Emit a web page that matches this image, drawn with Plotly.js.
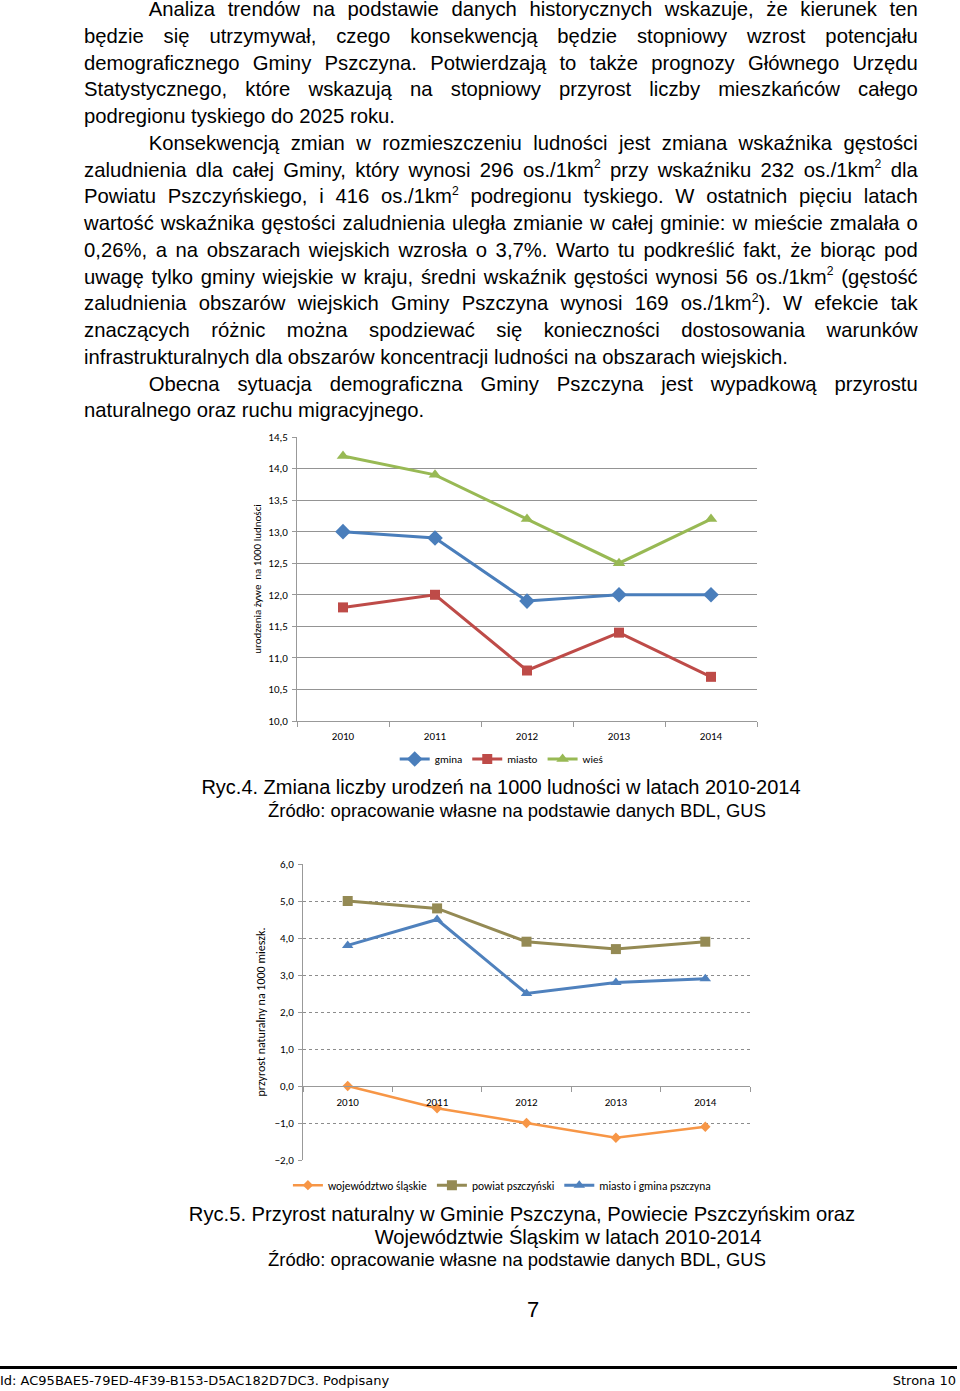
<!DOCTYPE html>
<html><head><meta charset="utf-8">
<script src="https://cdn.plot.ly/plotly-3.0.1.min.js"></script>
<style>
html,body{margin:0;padding:0;background:#fff;}
body{width:960px;height:1391px;position:relative;overflow:hidden;}
#text{position:absolute;left:84px;top:-4px;width:864px;transform:scaleX(0.965);transform-origin:0 0;font-family:"Liberation Sans",Arial,sans-serif;font-size:21px;line-height:26.75px;color:#000;}
#text .l{text-align:justify;text-align-last:justify;white-space:nowrap;height:26.75px;}
#text .e{text-align:left;text-align-last:left;}
#text .i{padding-left:67px;}
sup{font-size:0.6em;vertical-align:baseline;position:relative;top:-0.65em;}
.cap{position:absolute;left:0;width:1000px;text-align:center;font-family:"Liberation Sans",Arial,sans-serif;color:#000;white-space:nowrap;}
.chart{position:absolute;}
#foot{position:absolute;left:0;top:1366px;width:957px;height:3px;background:#000;}
.ft{position:absolute;top:1373px;font-family:"DejaVu Sans",Tahoma,sans-serif;font-size:13px;color:#000;}
</style></head>
<body>
<div id="text">
<div class="l i">Analiza trendów na podstawie danych historycznych wskazuje, że kierunek ten</div>
<div class="l">będzie się utrzymywał, czego konsekwencją będzie stopniowy wzrost potencjału</div>
<div class="l">demograficznego Gminy Pszczyna. Potwierdzają to także prognozy Głównego Urzędu</div>
<div class="l">Statystycznego, które wskazują na stopniowy przyrost liczby mieszkańców całego</div>
<div class="l e">podregionu tyskiego do 2025 roku.</div>
<div class="l i">Konsekwencją zmian w rozmieszczeniu ludności jest zmiana wskaźnika gęstości</div>
<div class="l">zaludnienia dla całej Gminy, który wynosi 296 os./1km<sup>2</sup> przy wskaźniku 232 os./1km<sup>2</sup> dla</div>
<div class="l">Powiatu Pszczyńskiego, i 416 os./1km<sup>2</sup> podregionu tyskiego. W ostatnich pięciu latach</div>
<div class="l">wartość wskaźnika gęstości zaludnienia uległa zmianie w całej gminie: w mieście zmalała o</div>
<div class="l">0,26%, a na obszarach wiejskich wzrosła o 3,7%. Warto tu podkreślić fakt, że biorąc pod</div>
<div class="l">uwagę tylko gminy wiejskie w kraju, średni wskaźnik gęstości wynosi 56 os./1km<sup>2</sup> (gęstość</div>
<div class="l">zaludnienia obszarów wiejskich Gminy Pszczyna wynosi 169 os./1km<sup>2</sup>). W efekcie tak</div>
<div class="l">znaczących różnic można spodziewać się konieczności dostosowania warunków</div>
<div class="l e">infrastrukturalnych dla obszarów koncentracji ludności na obszarach wiejskich.</div>
<div class="l i">Obecna sytuacja demograficzna Gminy Pszczyna jest wypadkową przyrostu</div>
<div class="l e">naturalnego oraz ruchu migracyjnego.</div>
</div>

<div id="c1" class="chart" style="left:240px;top:425px;width:540px;height:370px;"></div>
<div class="cap" style="left:1px;top:776px;font-size:20px;">Ryc.4. Zmiana liczby urodzeń na 1000 ludności w latach 2010-2014</div>
<div class="cap" style="left:17px;top:800px;font-size:18.4px;">Źródło: opracowanie własne na podstawie danych BDL, GUS</div>

<div id="c2" class="chart" style="left:240px;top:850px;width:540px;height:370px;"></div>
<div class="cap" style="left:22px;top:1203px;font-size:20.2px;">Ryc.5. Przyrost naturalny w Gminie Pszczyna, Powiecie Pszczyńskim oraz</div>
<div class="cap" style="left:68px;top:1226px;font-size:20.2px;">Województwie Śląskim w latach 2010-2014</div>
<div class="cap" style="left:17px;top:1249px;font-size:18.4px;">Źródło: opracowanie własne na podstawie danych BDL, GUS</div>
<div class="cap" style="left:33px;top:1297px;font-size:22px;">7</div>

<div id="foot"></div>
<div class="ft" style="left:0px;">Id: AC95BAE5-79ED-4F39-B153-D5AC182D7DC3. Podpisany</div>
<div class="ft" style="right:4px;">Strona 10</div>

<script>
// ---- Chart 1 data: urodzenia żywe na 1000 ludności ----
const years = ["2010", "2011", "2012", "2013", "2014"];
const gmina = [13.0, 12.9, 11.9, 12.0, 12.0];
const miasto = [11.8, 12.0, 10.8, 11.4, 10.7];
const wies = [14.2, 13.9, 13.2, 12.5, 13.2];
const yTicks1 = [10.0, 10.5, 11.0, 11.5, 12.0, 12.5, 13.0, 13.5, 14.0, 14.5];

// ---- Chart 2 data: przyrost naturalny na 1000 mieszk. ----
const wojewodztwo = [0.0, -0.6, -1.0, -1.4, -1.1];
const powiat = [5.0, 4.8, 3.9, 3.7, 3.9];
const miastoGmina = [3.8, 4.5, 2.5, 2.8, 2.9];
const yTicks2 = [-2, -1, 0, 1, 2, 3, 4, 5, 6];

const chartFont = {family: "Carlito, Lato, 'Open Sans', sans-serif", size: 11, color: "#000"};

const c1 = [
  {x: years, y: gmina, name: "gmina", mode: "lines+markers",
   line: {color: "#4A7EBB", width: 3}, marker: {symbol: "diamond", size: 12, color: "#4A7EBB"}},
  {x: years, y: miasto, name: "miasto", mode: "lines+markers",
   line: {color: "#BE4B48", width: 3}, marker: {symbol: "square", size: 10, color: "#BE4B48"}},
  {x: years, y: wies, name: "wieś", mode: "lines+markers",
   line: {color: "#98B954", width: 3}, marker: {symbol: "triangle-up", size: 11, color: "#98B954"}}
];
const l1 = {
  width: 540, height: 370, margin: {l: 57, r: 23, t: 12, b: 74},
  paper_bgcolor: "#fff", plot_bgcolor: "#fff", font: chartFont, separators: ", ",
  showlegend: true,
  legend: {orientation: "h", x: 0.445, xanchor: "center", y: -0.134, yanchor: "middle",
           font: {size: 11}, itemwidth: 30},
  xaxis: {type: "category", range: [-0.5, 4.5], showline: true, linecolor: "#999", linewidth: 1,
          ticks: "outside", tickson: "boundaries", ticklen: 5, tickcolor: "#999",
          ticklabelstandoff: 5, showgrid: false, zeroline: false, tickfont: {size: 11}},
  yaxis: {range: [10, 14.5], tickvals: yTicks1, tickformat: ".1f", showline: true, linecolor: "#999",
          ticks: "outside", ticklen: 4, tickcolor: "#999", ticklabelstandoff: 2,
          showgrid: true, gridcolor: "#949494",
          gridwidth: 1, zeroline: false, tickfont: {size: 11},
          title: {text: "urodzenia żywe  na 1000 ludności", font: {size: 11}, standoff: 4}}
};
Plotly.newPlot("c1", c1, l1, {staticPlot: true});

const c2 = [
  {x: years, y: wojewodztwo, name: "województwo śląskie", mode: "lines+markers",
   line: {color: "#F79646", width: 2.5}, marker: {symbol: "diamond", size: 8, color: "#F79646"}},
  {x: years, y: powiat, name: "powiat pszczyński", mode: "lines+markers",
   line: {color: "#948A54", width: 3}, marker: {symbol: "square", size: 10, color: "#948A54"}},
  {x: years, y: miastoGmina, name: "miasto i gmina pszczyna", mode: "lines+markers",
   line: {color: "#4F81BD", width: 3}, marker: {symbol: "triangle-up", size: 10, color: "#4F81BD"}}
];
const l2 = {
  width: 540, height: 370, margin: {l: 63, r: 30, t: 14, b: 60},
  paper_bgcolor: "#fff", plot_bgcolor: "#fff", font: chartFont, separators: ", ",
  showlegend: true,
  legend: {orientation: "h", x: 0.445, xanchor: "center", y: -0.085, yanchor: "middle",
           font: {size: 11.5}, itemwidth: 30},
  xaxis: {type: "category", range: [-0.5, 4.5], anchor: "free", position: 0.25,
          showline: true, linecolor: "#999", linewidth: 1,
          ticks: "outside", tickson: "boundaries", ticklen: 5, tickcolor: "#999",
          ticklabelstandoff: 6, showgrid: false, zeroline: false, tickfont: {size: 11}},
  yaxis: {range: [-2, 6], tickvals: yTicks2, tickformat: ".1f", showline: true, linecolor: "#999",
          ticks: "outside", ticklen: 4, tickcolor: "#999", ticklabelstandoff: 2,
          showgrid: true, gridcolor: "#8c8c8c",
          griddash: "dot", gridwidth: 1, zeroline: false, tickfont: {size: 11},
          title: {text: "przyrost naturalny na 1000 mieszk.", font: {size: 12}, standoff: 6}}
};
Plotly.newPlot("c2", c2, l2, {staticPlot: true});
</script>
</body></html>
